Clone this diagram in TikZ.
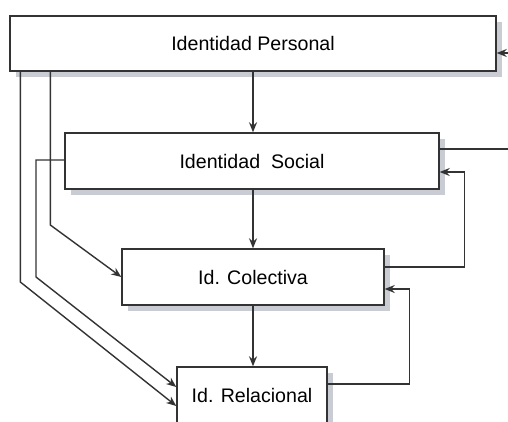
\documentclass[tikz,border=0pt]{standalone}
\usepackage{fontspec}
\setmainfont{Liberation Sans}
\usetikzlibrary{arrows.meta,shadows}
\definecolor{linegray}{HTML}{333333}
\definecolor{shadowgray}{HTML}{C9CDD3}
\tikzset{
  idbox/.style={draw=linegray, line width=1.4pt, fill=white, rectangle,
    minimum height=56pt, inner sep=0pt,
    font=\fontsize{19.6}{23}\selectfont,
    drop shadow={shadow xshift=6pt, shadow yshift=-6pt, fill=shadowgray, opacity=1, draw=none}},
  link/.style={draw=linegray, line width=1.4pt},
  arr/.style={link, -{Stealth[length=10pt,width=8pt]}}
}
\begin{document}
\begin{tikzpicture}[x=1pt,y=1pt]
\useasboundingbox (0,0) rectangle (508,421);
\clip (0,0) rectangle (508,421);

% the four levels of identity
\node[idbox, minimum width=486pt, minimum height=55pt] (b1) at (253,377.5) {Identidad Personal};
\node[idbox, minimum width=374pt] (b2) at (252,260) {Identidad\ \ Social};
\node[idbox, minimum width=262pt] (b3) at (253,144) {Id. Colectiva};
\node[idbox, minimum width=150pt] (b4) at (252,26) {Id. Relacional};

% loose ends on the right border
\coordinate (outA) at (508,368);
\coordinate (outB) at (508,272);

% downward chain
\draw[arr] (b1.south) -- (b1.south |- b2.north);
\draw[arr] (b3.north |- b2.south) -- (b3.north);
\draw[arr] (b3.south) -- (b3.south |- b4.north);

% feedback loops on the right
\draw[arr] ([yshift=10pt]b3.east) -| ([xshift=25pt,yshift=-11pt]b2.east) -- ([yshift=-11pt]b2.east);
\draw[arr] ([yshift=11pt]b4.east) -| ([xshift=25pt,yshift=-12pt]b3.east) -- ([yshift=-12pt]b3.east);
\draw[link] ([yshift=12pt]b2.east) -- (outB);
\draw[arr] (outA) -- (outA -| b1.east);

% skipping links on the left
\draw[arr] ([xshift=41pt]b1.south west) -- ([xshift=41pt]b1.south west |- 0,196) -- (b3.west);
\draw[arr] ([xshift=11pt]b1.south west) -- ([xshift=11pt]b1.south west |- 0,139) -- ([yshift=-11pt]b4.west);
\draw[arr] ([yshift=1pt]b2.west) -- (36,261) -- (36,144) -- ([yshift=8pt]b4.west);
\end{tikzpicture}
\end{document}
